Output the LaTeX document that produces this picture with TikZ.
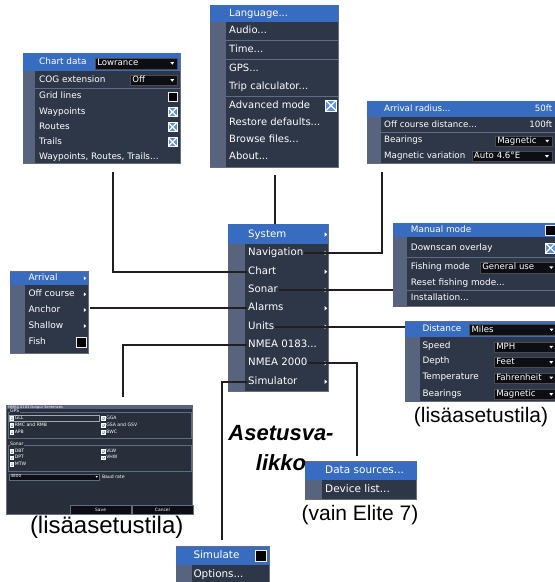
\documentclass[tikz,border=0pt]{standalone}
\usepackage{fontspec}
\setmainfont{Liberation Sans}
\newfontfamily\menufont{DejaVu Sans}
\definecolor{menubg}{RGB}{46,55,72}
\definecolor{menustrip}{RGB}{88,99,126}
\definecolor{menuhi}{RGB}{56,108,192}
\definecolor{menusep}{RGB}{96,108,132}
\definecolor{menurim}{RGB}{105,110,122}
\definecolor{dropbg}{RGB}{12,14,20}
\definecolor{chkblue}{RGB}{92,146,226}
\definecolor{scrbg}{RGB}{40,46,58}
\definecolor{linedark}{RGB}{35,31,32}

\begin{document}
\begin{tikzpicture}[x=1pt, y=-1pt,
  panel/.style={rectangle, draw=menurim, fill=menubg, line width=0.8pt,
                anchor=north west, inner sep=0pt, outer sep=0pt},
  item/.style={anchor=west, inner sep=1pt, text=white,
               text height=0.73*#1pt, text depth=0.22*#1pt,
               font=\menufont\fontsize{#1}{#1}\selectfont},
  item/.default=9,
  val/.style={item=#1, anchor=east},
  drop/.style={rectangle, anchor=north west, fill=dropbg, draw=black!70, line width=0.5pt,
               inner xsep=2pt, inner ysep=0pt, text width=#1, align=left, text=white,
               text height=6.3pt, text depth=1.8pt,
               font=\menufont\fontsize{8.6}{8.6}\selectfont,
               path picture={\fill[white] ([xshift=-7pt,yshift=1.2pt]path picture bounding box.east)
                 -- ++(4pt,0pt) -- ++(-2pt,-2.6pt) -- cycle;}},
  chkoff/.style={rectangle, minimum size=#1, inner sep=0pt, fill=black,
                 draw=white!85!gray, line width=0.7pt},
  chkoff/.default=9,
  chkon/.style={rectangle, minimum size=#1, inner sep=0pt, fill=chkblue, draw=white,
                line width=0.06*#1pt,
                path picture={\draw[white, line width=0.12*#1pt]
                  (path picture bounding box.north west) -- (path picture bounding box.south east)
                  (path picture bounding box.north east) -- (path picture bounding box.south west);}},
  chkon/.default=9,
  btn/.style={rectangle, anchor=north west, fill=dropbg, draw=menusep, line width=0.5pt,
              inner sep=0pt, text=white, font=\menufont\fontsize{4.4}{4.4}\selectfont},
  conn/.style={draw=linedark, line width=2pt},
  lab/.style={inner sep=0pt, text=black, font=\fontsize{#1}{#1}\selectfont}
]
\useasboundingbox (0,0) rectangle (555,582);

% Main settings menu
\node[panel, minimum width=100, minimum height=167] (mainmenu) at (228,224) {};
\fill[menuhi] (228,224) rectangle (328,244);
\fill[menustrip] (228,244) rectangle (245,391);
\node[item=10.2] (m-system) at (247,234.5) {System};
\node[item=10.2] (m-nav)    at (247,253)   {Navigation};
\node[item=10.2] (m-chart)  at (247,271.7) {Chart};
\node[item=10.2] (m-sonar)  at (247,290)   {Sonar};
\node[item=10.2] (m-alarms) at (247,308.3) {Alarms};
\node[item=10.2] (m-units)  at (247,326.7) {Units};
\node[item=10.2] (m-n0183)  at (247,345)   {NMEA 0183...};
\node[item=10.2] (m-n2000)  at (247,363.3) {NMEA 2000};
\node[item=10.2] (m-sim)    at (247,381.7) {Simulator};
\fill[white] (324.6,232.3) -- ++(2.6,2.2) -- ++(-2.6,2.2) -- cycle
             (324.6,250.8) -- ++(2.6,2.2) -- ++(-2.6,2.2) -- cycle
             (324.6,269.5) -- ++(2.6,2.2) -- ++(-2.6,2.2) -- cycle
             (324.6,287.8) -- ++(2.6,2.2) -- ++(-2.6,2.2) -- cycle
             (324.6,306.1) -- ++(2.6,2.2) -- ++(-2.6,2.2) -- cycle
             (324.6,324.5) -- ++(2.6,2.2) -- ++(-2.6,2.2) -- cycle
             (324.6,361.1) -- ++(2.6,2.2) -- ++(-2.6,2.2) -- cycle
             (324.6,379.5) -- ++(2.6,2.2) -- ++(-2.6,2.2) -- cycle;

% System menu
\node[panel, minimum width=128, minimum height=162] (sysmenu) at (210,5) {};
\fill[menuhi] (210,5) rectangle (338,22);
\fill[menustrip] (210,22) rectangle (226,167);
\draw[menusep] (226,40) -- (338,40) (226,59.3) -- (338,59.3) (226,95.7) -- (338,95.7);
\node[item=10] (s-lang)    at (228,13.5)  {Language...};
\node[item=10] (s-audio)   at (228,31)    {Audio...};
\node[item=10] (s-time)    at (228,50)    {Time...};
\node[item=10] (s-gps)     at (228,69)    {GPS...};
\node[item=10] (s-trip)    at (228,87)    {Trip calculator...};
\node[item=10] (s-adv)     at (228,105.5) {Advanced mode};
\node[chkon=11] (s-advchk) at (331,105.5) {};
\node[item=10] (s-restore) at (228,122.7) {Restore defaults...};
\node[item=10] (s-browse)  at (228,140)   {Browse files...};
\node[item=10] (s-about)   at (228,157)   {About...};

% Chart menu
\node[panel, minimum width=157, minimum height=110] (chartmenu) at (23,53) {};
\fill[menuhi] (23,53) rectangle (180,71);
\fill[menustrip] (23,71) rectangle (35,163);
\draw[menusep] (35,88) -- (180,88);
\node[item=8.9] (c-data) at (38,62.5) {Chart data};
\node[drop=78, minimum height=11] (c-datadd) at (95,57.5) {Lowrance};
\node[item=8.9] (c-cog) at (38,80) {COG extension};
\node[drop=43, minimum height=10] (c-cogdd) at (130,75) {Off};
\node[item=8.9] (c-grid) at (38,96.7) {Grid lines};
\node[chkoff] (c-gridchk) at (172.5,96.7) {};
\node[item=8.9] (c-wp) at (38,112) {Waypoints};
\node[chkon] (c-wpchk) at (172.5,112) {};
\node[item=8.9] (c-rt) at (38,127) {Routes};
\node[chkon] (c-rtchk) at (172.5,127) {};
\node[item=8.9] (c-tr) at (38,142) {Trails};
\node[chkon] (c-trchk) at (172.5,142) {};
\node[item=8.9] (c-wrt) at (38,157) {Waypoints, Routes, Trails...};

% Navigation menu
\node[panel, minimum width=189, minimum height=62] (navmenu) at (367,101) {};
\fill[menuhi] (367,101) rectangle (556,117);
\fill[menustrip] (367,117) rectangle (381,163);
\draw[menusep] (381,132) -- (556,132);
\node[item=8.7] (n-arr) at (383,109) {Arrival radius...};
\node[val=8.7] (n-arrval) at (553.5,109) {50ft};
\node[item=8.7] (n-off) at (383,125) {Off course distance...};
\node[val=8.7] (n-offval) at (553.5,125) {100ft};
\node[item=8.7] (n-bear) at (383,140.7) {Bearings};
\node[drop=53, minimum height=10] (n-beardd) at (495,135.7) {Magnetic};
\node[item=8.7] (n-var) at (383,156) {Magnetic variation};
\node[drop=76, minimum height=10] (n-vardd) at (471.7,151) {Auto 4.6°E};

% Sonar menu
\node[panel, minimum width=163, minimum height=83.4] (sonarmenu) at (393,223.3) {};
\fill[menuhi] (393,223.3) rectangle (556,237);
\fill[menustrip] (393,237) rectangle (407,306.7);
\draw[menusep] (407,256.7) -- (556,256.7) (407,290) -- (556,290);
\node[item=8.9] (so-man) at (409.7,230.3) {Manual mode};
\node[chkoff=10] (so-manchk) at (550.5,230.3) {};
\node[item=8.9] (so-down) at (409.7,248) {Downscan overlay};
\node[chkon=10] (so-downchk) at (550.5,248) {};
\node[item=8.9] (so-fish) at (409.7,267) {Fishing mode};
\node[drop=72, minimum height=11.6] (so-fishdd) at (480,261.5) {General use};
\node[item=8.9] (so-reset) at (409.7,283) {Reset fishing mode...};
\node[item=8.9] (so-inst) at (409.7,298.5) {Installation...};

% Alarms menu
\node[panel, minimum width=78.3, minimum height=81.6] (alarmmenu) at (10,271.7) {};
\fill[menuhi] (10,271.7) rectangle (88.3,285);
\fill[menustrip] (10,285) rectangle (25,353.3);
\node[item=9] (a-arr) at (27.3,278.3) {Arrival};
\node[item=9] (a-off) at (27.3,294.3) {Off course};
\node[item=9] (a-anc) at (27.3,310) {Anchor};
\node[item=9] (a-sha) at (27.3,326) {Shallow};
\node[item=9] (a-fish) at (27.3,342.3) {Fish};
\node[chkoff=10] (a-fishchk) at (81.7,342.3) {};
\fill[white] (83.8,276.3) -- ++(2.4,2) -- ++(-2.4,2) -- cycle
             (83.8,292.3) -- ++(2.4,2) -- ++(-2.4,2) -- cycle
             (83.8,308) -- ++(2.4,2) -- ++(-2.4,2) -- cycle
             (83.8,324) -- ++(2.4,2) -- ++(-2.4,2) -- cycle;

% Units menu
\node[panel, minimum width=151, minimum height=80] (unitsmenu) at (405,321.7) {};
\fill[menuhi] (405,321.7) rectangle (556,336.7);
\fill[menustrip] (405,336.7) rectangle (420,401.7);
\node[item=8.9] (u-dist) at (421.3,329.5) {Distance};
\node[drop=83, minimum height=11.5] (u-distdd) at (469.3,323.8) {Miles};
\node[item=8.9] (u-speed) at (421.3,346.5) {Speed};
\node[drop=58, minimum height=10] (u-speeddd) at (494,341.7) {MPH};
\node[item=8.9] (u-depth) at (421.3,361.7) {Depth};
\node[drop=58, minimum height=10] (u-depthdd) at (494,357) {Feet};
\node[item=8.9] (u-temp) at (421.3,377.3) {Temperature};
\node[drop=58, minimum height=10] (u-tempdd) at (494,372.5) {Fahrenheit};
\node[item=8.9] (u-bear) at (421.3,394) {Bearings};
\node[drop=58, minimum height=10] (u-beardd) at (494,389) {Magnetic};
\node[lab=21] (lab-units) at (481,416.7) {(lisäasetustila)};

% NMEA 0183 output screen
\node[panel, fill=scrbg, line width=0.6pt, minimum width=186, minimum height=109.3] (scrframe) at (6.7,405) {};
\fill[menustrip] (6.7,405) rectangle (192.7,409.2);
\node[item=3.6] (scr-title) at (7.3,407.1) {NMEA 0183 Output Sentences};
\draw[menusep, line width=0.5pt] (8.5,412) rectangle (191,438.5);
\node[item=4.6, fill=scrbg, inner sep=0.4pt] (scr-gps) at (9.5,411.6) {GPS};
\draw[menusep!60!white, line width=0.5pt] (9,415) rectangle (99,421.6);
\node[chkon=3.6] (scr-c1) at (11.8,418.3) {};
\node[item=4.6] (scr-gll) at (13.6,418.3) {GLL};
\node[chkon=3.6] (scr-c2) at (11.8,425) {};
\node[item=4.6] (scr-rmc) at (13.6,425) {RMC and RMB};
\node[chkon=3.6] (scr-c3) at (11.8,432) {};
\node[item=4.6] (scr-apb) at (13.6,432) {APB};
\node[chkon=3.6] (scr-c4) at (103.3,418.3) {};
\node[item=4.6] (scr-gga) at (105.1,418.3) {GGA};
\node[chkon=3.6] (scr-c5) at (103.3,425) {};
\node[item=4.6] (scr-gsa) at (105.1,425) {GSA and GSV};
\node[chkon=3.6] (scr-c6) at (103.3,432) {};
\node[item=4.6] (scr-bwc) at (105.1,432) {BWC};
\draw[menusep, line width=0.5pt] (8.5,445) rectangle (191,471);
\node[item=4.6, fill=scrbg, inner sep=0.4pt] (scr-sonar) at (9.5,444.6) {Sonar};
\node[chkon=3.6] (scr-c7) at (11.8,451) {};
\node[item=4.6] (scr-dbt) at (13.6,451) {DBT};
\node[chkon=3.6] (scr-c8) at (11.8,457.5) {};
\node[item=4.6] (scr-dpt) at (13.6,457.5) {DPT};
\node[chkon=3.6] (scr-c9) at (11.8,464.2) {};
\node[item=4.6] (scr-mtw) at (13.6,464.2) {MTW};
\node[chkon=3.6] (scr-c10) at (103.3,451) {};
\node[item=4.6] (scr-vlw) at (105.1,451) {VLW};
\node[chkon=3.6] (scr-c11) at (103.3,457.5) {};
\node[item=4.6] (scr-vhw) at (105.1,457.5) {VHW};
\node[btn, minimum width=90.2, minimum height=5.5] (scr-baud) at (8.8,474) {};
\node[item=4.2] (scr-4800) at (9.3,476.75) {4800};
\fill[white] (95.5,476) -- ++(2.4,0) -- ++(-1.2,1.6) -- cycle;
\node[item=4.6] (scr-baudlab) at (100.8,477) {Baud rate};
\node[btn, minimum width=60.7, minimum height=9.8] (scr-save) at (70,504.5) {Save};
\node[btn, minimum width=61, minimum height=9.8] (scr-cancel) at (131.7,504.5) {Cancel};
\node[lab=24] (lab-nmea) at (106.7,527) {(lisäasetustila)};

% NMEA 2000 menu
\node[panel, minimum width=111.7, minimum height=37.6] (netmenu) at (305,461.7) {};
\fill[menuhi] (305,461.7) rectangle (416.7,480);
\fill[menustrip] (305,480) rectangle (321.7,499.3);
\node[item=10.5] (ne-src) at (324,471) {Data sources...};
\node[item=10.5] (ne-dev) at (324,489.7) {Device list...};
\node[lab=21] (lab-elite) at (360,515) {(vain Elite 7)};

% Simulator menu
\node[panel, minimum width=93.3, minimum height=38] (simmenu) at (176,546.7) {};
\fill[menuhi] (176,546.7) rectangle (269.3,565);
\fill[menustrip] (176,565) rectangle (191.7,584);
\node[item=10.4] (si-sim) at (192.3,556) {Simulate};
\node[chkoff=11] (si-simchk) at (260.5,556.3) {};
\node[item=10.4] (si-opt) at (192.3,574.5) {Options...};

% Menu title
\node[lab=22, font=\bfseries\itshape\fontsize{22}{30}\selectfont, align=center] (lab-menu) at (281,448) {Asetusva-\\likko};

% Connectors
\coordinate (sysend) at (275,175);
\coordinate (chartend) at (112.7,171.7);
\coordinate (navend) at (381.7,171.7);
\coordinate (n0183end) at (123.3,396.7);
\coordinate (n2000end) at (357.3,456);
\coordinate (simend) at (222.3,540);
\draw[conn] (sysend) -- (sysend |- mainmenu.north);
\draw[conn] (m-chart.west) -| (chartend);
\draw[conn] (m-nav.east) -| (navend);
\draw[conn] (m-sonar.east) -- (m-sonar.east -| sonarmenu.west);
\draw[conn] (m-alarms.west) -- ([xshift=1.5pt]m-alarms.west -| alarmmenu.east);
\draw[conn] (m-units.east) -- (m-units.east -| unitsmenu.west);
\draw[conn] (m-n0183.west) -| (n0183end);
\draw[conn] (m-n2000.east) -| (n2000end);
\draw[conn] (m-sim.west) -| (simend);
\end{tikzpicture}
\end{document}
